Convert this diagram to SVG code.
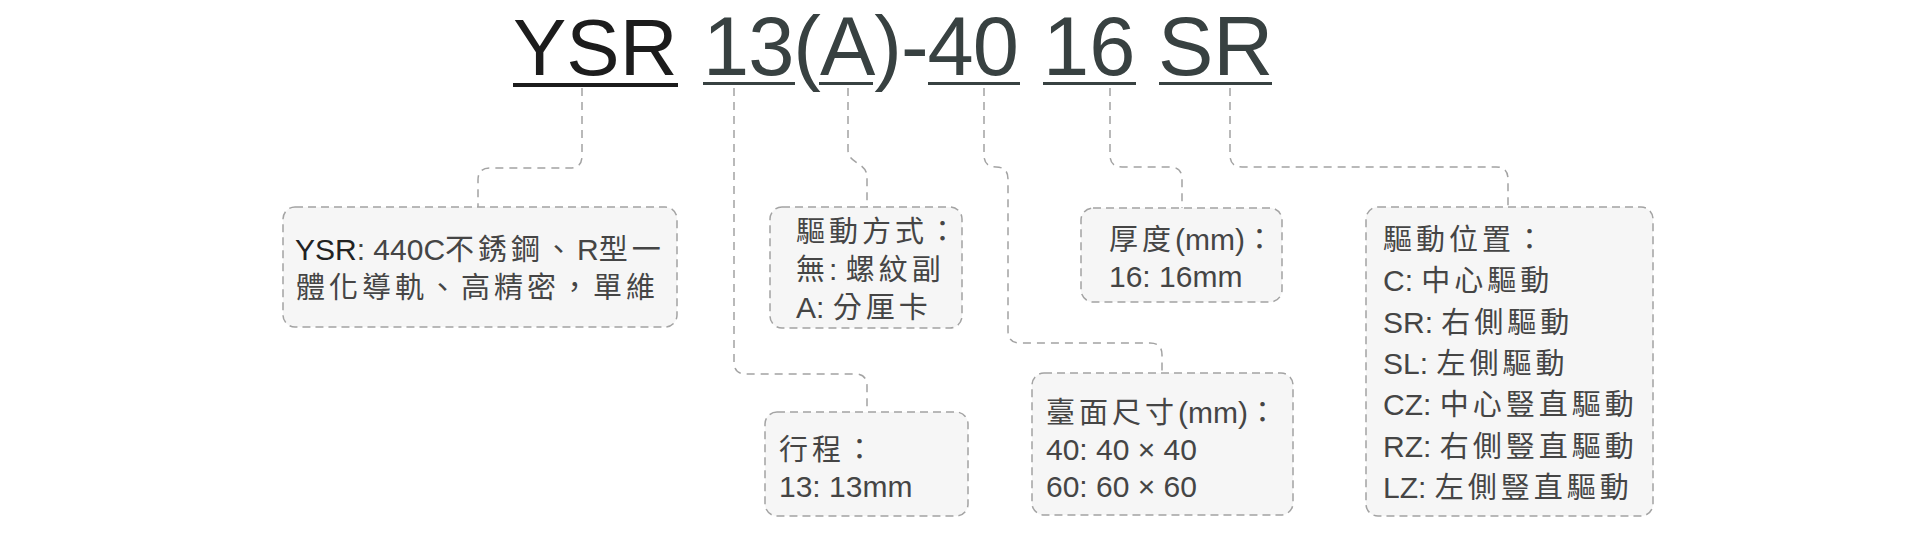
<svg xmlns="http://www.w3.org/2000/svg" width="1920" height="544" viewBox="0 0 1920 544">
<style>
.bg{fill:#ffffff}
.title{font-family:"Liberation Sans","Noto Sans CJK TC",sans-serif;font-size:83px;fill:#384141}
.ysr{font-family:"Liberation Sans","Noto Sans CJK TC",sans-serif;font-size:80px;fill:#1c1c1c}
.ul{fill:#384141}
.ul0{fill:#1c1c1c}
.box{fill:#f6f6f6;stroke:#a3a3a3;stroke-width:1.5;stroke-dasharray:8 5}
.con{fill:none;stroke:#a3a3a3;stroke-width:1.5;stroke-dasharray:8 6}
.t{font-family:"Liberation Sans","Noto Sans CJK TC",sans-serif;font-size:30px;fill:#454545}
.c{font-family:"Noto Sans CJK TC","Noto Sans CJK SC",sans-serif;font-size:29px;letter-spacing:4px}
.dk{fill:#222222}
</style>
<rect class="bg" x="0" y="0" width="1920" height="544"/>

<g id="title">
  <text class="ysr" x="513" y="75">YSR</text>
  <text class="title" x="703" y="75" letter-spacing="-1">13(A)-40</text>
  <text class="title" x="1043" y="75">16</text>
  <text class="title" x="1158" y="75">SR</text>
  <rect class="ul0" x="513" y="83" width="165" height="4"/>
  <rect class="ul" x="703" y="82" width="92" height="3"/>
  <rect class="ul" x="819" y="82" width="54" height="3"/>
  <rect class="ul" x="928" y="82" width="92" height="3"/>
  <rect class="ul" x="1043" y="82" width="93" height="3"/>
  <rect class="ul" x="1159" y="82" width="113" height="3"/>
</g>

<g id="connectors">
  <path class="con" d="M582 88 V156 Q582 168 570 168 H490 Q478 168 478 180 V207"/>
  <path class="con" d="M734 88 V362 Q734 374 746 374 H855 Q867 374 867 386 V412"/>
  <path class="con" d="M848 88 V150 C848 164 867 162 867 177 V207"/>
  <path class="con" d="M984 88 V155 Q984 167 996 167 Q1008 167 1008 179 V331 Q1008 343 1020 343 H1150 Q1162 343 1162 355 V373"/>
  <path class="con" d="M1110 88 V155 Q1110 167 1122 167 H1170 Q1182 167 1182 179 V208"/>
  <path class="con" d="M1230 88 V155 Q1230 167 1242 167 H1496 Q1508 167 1508 179 V207"/>
</g>

<g id="node-ysr">
  <rect class="box" x="283" y="207" width="394" height="120" rx="12"/>
  <text class="t" x="295" y="260"><tspan class="dk">YSR</tspan>: 440C<tspan class="c">不銹鋼、</tspan>R<tspan class="c">型一</tspan></text>
  <text class="t" x="296" y="298"><tspan class="c">體化導軌、高精密，單維</tspan></text>
</g>

<g id="node-drive">
  <rect class="box" x="770" y="207" width="192" height="121" rx="12"/>
  <text class="t" x="796" y="242"><tspan class="c">驅動方式：</tspan></text>
  <text class="t" x="796" y="280"><tspan class="c">無</tspan>: <tspan class="c">螺紋副</tspan></text>
  <text class="t" x="796" y="318">A: <tspan class="c">分厘卡</tspan></text>
</g>

<g id="node-stroke">
  <rect class="box" x="765" y="412" width="203" height="104" rx="12"/>
  <text class="t" x="779" y="460"><tspan class="c">行程：</tspan></text>
  <text class="t" x="779" y="497">13: 13mm</text>
</g>

<g id="node-thickness">
  <rect class="box" x="1081" y="208" width="201" height="94" rx="12"/>
  <text class="t" x="1109" y="250"><tspan class="c">厚度</tspan>(mm)<tspan class="c">：</tspan></text>
  <text class="t" x="1109" y="287">16: 16mm</text>
</g>

<g id="node-table">
  <rect class="box" x="1032" y="373" width="261" height="142" rx="12"/>
  <text class="t" x="1046" y="423"><tspan class="c">臺面尺寸</tspan>(mm)<tspan class="c">：</tspan></text>
  <text class="t" x="1046" y="460">40: 40 × 40</text>
  <text class="t" x="1046" y="497">60: 60 × 60</text>
</g>

<g id="node-position">
  <rect class="box" x="1366" y="207" width="287" height="309" rx="12"/>
  <text class="t" x="1383" y="250"><tspan class="c">驅動位置：</tspan></text>
  <text class="t" x="1383" y="291">C: <tspan class="c">中心驅動</tspan></text>
  <text class="t" x="1383" y="333">SR: <tspan class="c">右側驅動</tspan></text>
  <text class="t" x="1383" y="374">SL: <tspan class="c">左側驅動</tspan></text>
  <text class="t" x="1383" y="415">CZ: <tspan class="c">中心豎直驅動</tspan></text>
  <text class="t" x="1383" y="457">RZ: <tspan class="c">右側豎直驅動</tspan></text>
  <text class="t" x="1383" y="498">LZ: <tspan class="c">左側豎直驅動</tspan></text>
</g>
</svg>
